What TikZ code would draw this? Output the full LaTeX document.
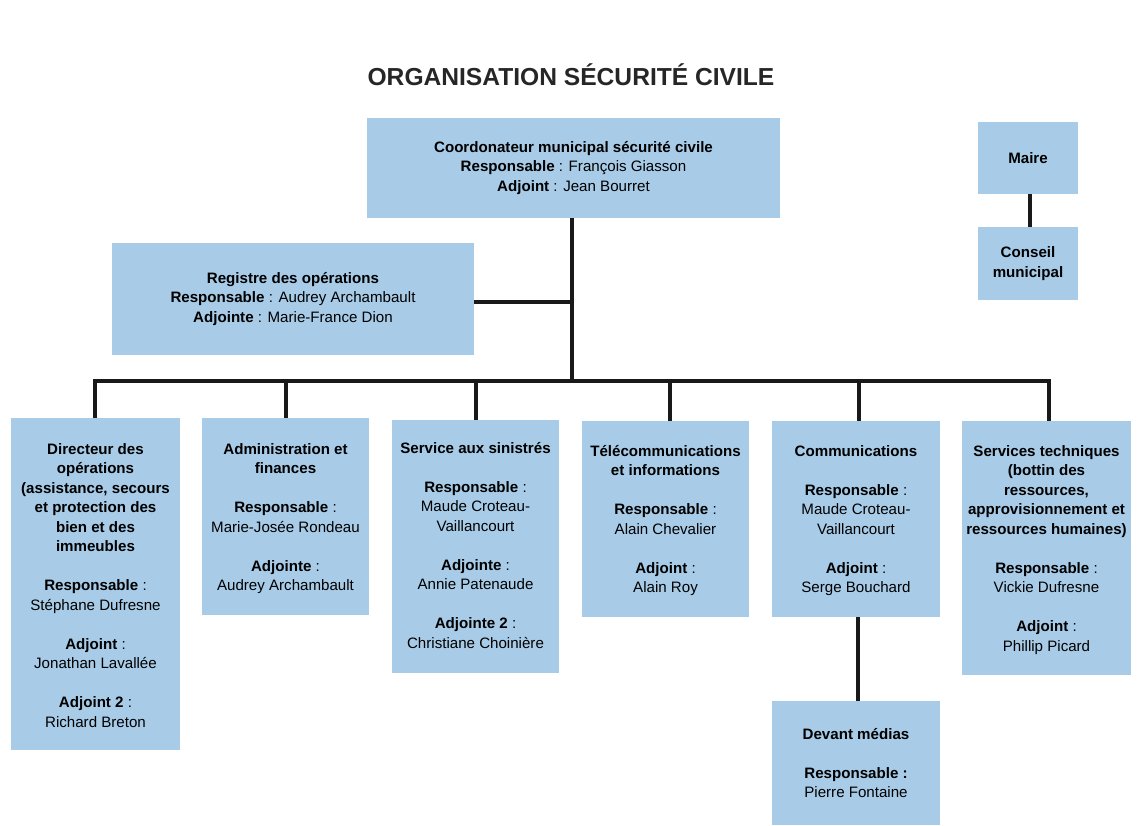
\documentclass[tikz,border=0pt]{standalone}
\usepackage{fontspec}
\setmainfont{Liberation Sans}
\usetikzlibrary{fit,calc}
\definecolor{boxblue}{RGB}{168,204,232}
\begin{document}
\begin{tikzpicture}[x=0.02cm,y=-0.02cm,
  box/.style={fill=boxblue, draw=none, inner sep=0pt},
  txt/.style={font=\fontsize{8.6}{11.1}\selectfont, align=center, inner sep=0pt},
  link/.style={line width=2pt, black!90}]
\useasboundingbox (0,0) rectangle (1139,825);
\node[font=\bfseries\fontsize{14}{16}\selectfont, text=black!85] (title) at (571,75) {ORGANISATION SÉCURITÉ CIVILE};

% top boxes
\node[box, fit={(367,118) (780,218)}] (coord) {};
\node[txt] (coordt) at (coord.center) {\textbf{Coordonateur municipal sécurité civile}\\ \textbf{Responsable} : François Giasson\\ \textbf{Adjoint} : Jean Bourret};

\node[box, fit={(112,243) (474,355)}] (reg) {};
\node[txt] (regt) at (reg.center) {\textbf{Registre des opérations}\\ \textbf{Responsable} : Audrey Archambault\\ \textbf{Adjointe} : Marie-France Dion};

\node[box, fit={(978,122) (1078,194)}] (maire) {};
\node[txt] (mairet) at (maire.center) {\textbf{Maire}};
\node[box, fit={(978,227) (1078,300)}] (conseil) {};
\node[txt] (conseilt) at (conseil.center) {\textbf{Conseil}\\ \textbf{municipal}};

% bottom boxes
\node[box, fit={(11,418) (180,750)}] (dir) {};
\node[txt, anchor=north] (dirt) at (95.5,443) {\textbf{Directeur des}\\ \textbf{opérations}\\ \textbf{(assistance, secours}\\ \textbf{et protection des}\\ \textbf{bien et des}\\ \textbf{immeubles}\\[11.1pt] \textbf{Responsable} :\\ Stéphane Dufresne\\[11.1pt] \textbf{Adjoint} :\\ Jonathan Lavallée\\[11.1pt] \textbf{Adjoint 2} :\\ Richard Breton};

\node[box, fit={(202,418) (369,615)}] (adm) {};
\node[txt, anchor=north] (admt) at (285.5,443) {\textbf{Administration et}\\ \textbf{finances}\\[11.1pt] \textbf{Responsable} :\\ Marie-Josée Rondeau\\[11.1pt] \textbf{Adjointe} :\\ Audrey Archambault};

\node[box, fit={(392,420) (559,673)}] (serv) {};
\node[txt, anchor=north] (servt) at (475.5,442) {\textbf{Service aux sinistrés}\\[11.1pt] \textbf{Responsable} :\\ Maude Croteau-\\ Vaillancourt\\[11.1pt] \textbf{Adjointe} :\\ Annie Patenaude\\[11.1pt] \textbf{Adjointe 2} :\\ Christiane Choinière};

\node[box, fit={(582,421) (749,617)}] (tele) {};
\node[txt, anchor=north] (telet) at (665.5,445) {\textbf{Télécommunications}\\ \textbf{et informations}\\[11.1pt] \textbf{Responsable} :\\ Alain Chevalier\\[11.1pt] \textbf{Adjoint} :\\ Alain Roy};

\node[box, fit={(772,421) (940,617)}] (comm) {};
\node[txt, anchor=north] (commt) at (856,445) {\textbf{Communications}\\[11.1pt] \textbf{Responsable} :\\ Maude Croteau-\\ Vaillancourt\\[11.1pt] \textbf{Adjoint} :\\ Serge Bouchard};

\node[box, fit={(962,421) (1131,675)}] (tech) {};
\node[txt, anchor=north] (techt) at (1046.5,445) {\textbf{Services techniques}\\ \textbf{(bottin des}\\ \textbf{ressources,}\\ \textbf{approvisionnement et}\\ \textbf{ressources humaines)}\\[11.1pt] \textbf{Responsable} :\\ Vickie Dufresne\\[11.1pt] \textbf{Adjoint} :\\ Phillip Picard};

\node[box, fit={(772,701) (940,825)}] (dev) {};
\node[txt, anchor=north] (devt) at (856,728) {\textbf{Devant médias}\\[11.1pt] \textbf{Responsable :}\\ Pierre Fontaine};

% connectors
\coordinate (bar) at (572,381);
\coordinate (regj) at ($(reg.east)+(0,3)$);
\draw[link] (bar |- coord.south) -- (bar);
\draw[link] (regj) -- (regj -| bar);
\draw[link] ($(dir.north)+(-0.5,0)$) |- (bar) -| ($(tech.north)+(2.5,0)$);
\draw[link] ($(adm.north)+(0.5,0)$) -- ($(adm.north |- bar)+(0.5,0)$);
\draw[link] ($(serv.north)+(0.5,0)$) -- ($(serv.north |- bar)+(0.5,0)$);
\draw[link] ($(tele.north)+(4.5,0)$) -- ($(tele.north |- bar)+(4.5,0)$);
\draw[link] ($(comm.north)+(3,0)$) -- ($(comm.north |- bar)+(3,0)$);
\draw[link] ($(comm.south)+(2,0)$) -- ($(dev.north)+(2,0)$);
\draw[link] ($(maire.south)+(2,0)$) -- ($(conseil.north)+(2,0)$);
\end{tikzpicture}
\end{document}
